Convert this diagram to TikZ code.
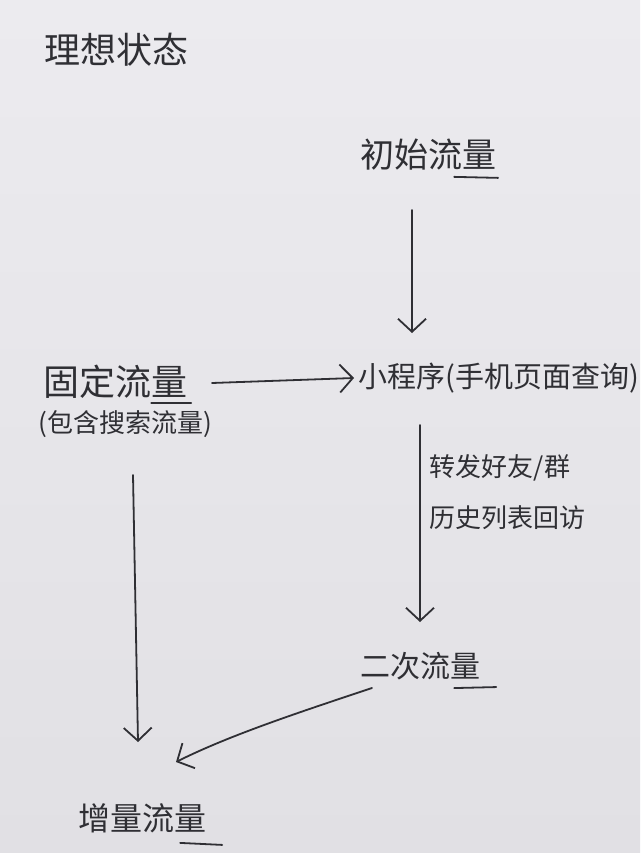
\documentclass[tikz,border=0pt]{standalone}
\usepackage{fontspec}
\newfontfamily\cjk{Noto Sans CJK SC}
\usetikzlibrary{arrows.meta}
\definecolor{paper}{HTML}{ECEBEF}
\definecolor{paperlow}{HTML}{E1E0E4}
\definecolor{inkc}{HTML}{2F2F34}
\begin{document}
\begin{tikzpicture}[x=1pt,y=-1pt,
  ink/.style={draw=inkc, line width=1.8pt, line cap=round, line join=round},
  arr/.style={ink, -{Straight Barb[length=13pt,width=28pt,line width=1.8pt]}},
  lbl/.style={text=inkc, inner sep=0pt, font=\cjk\fontsize{34}{38}\selectfont},
  note/.style={lbl, font=\cjk\fontsize{26}{30}\selectfont}]
  % paper
  \shade[top color=paper, bottom color=paperlow] (0,0) rectangle (640,853);
  \useasboundingbox (0,0) rectangle (640,853);

  % labels
  \node[lbl, font=\cjk\fontsize{36}{40}\selectfont] (title) at (116,50) {理想状态};
  \node[lbl] (init) at (428,155) {初始流量};
  \node[lbl, font=\cjk\fontsize{36}{40}\selectfont] (fixed) at (115,382) {固定流量};
  \node[note] (search) at (125,424) {(包含搜索流量)};
  \node[lbl, font=\cjk\fontsize{29}{33}\selectfont] (mini) at (499,378) {小程序(手机页面查询)};
  \node[note] (fwd) at (500,468) {转发好友/群};
  \node[note] (hist) at (507,518) {历史列表回访};
  \node[lbl, font=\cjk\fontsize{30}{34}\selectfont] (second) at (420,666) {二次流量};
  \node[lbl, font=\cjk\fontsize{32}{36}\selectfont] (incr) at (142,818) {增量流量};

  % underlines
  \draw[ink] (init.south east) ++(-42,6) coordinate (u1a) -- ++(44,1) coordinate (u1b);
  \draw[ink] (fixed.south east) ++(-36,4) coordinate (u2a) -- ++(40,0) coordinate (u2b);
  \draw[ink] (second.south east) ++(-26,8) coordinate (u3a) -- ++(42,-1) coordinate (u3b);
  \draw[ink] (incr.south east) ++(-26,10) coordinate (u4a) -- ++(42,2) coordinate (u4b);

  % connector end points
  \coordinate (initOut) at (412,210);
  \coordinate (miniIn) at (412,333);
  \coordinate (fixedOut) at (212,383);
  \coordinate (miniLeft) at (354,378);
  \coordinate (miniOut) at (420,425);
  \coordinate (secondIn) at (420,622);
  \coordinate (fixedDown) at (133,475);
  \coordinate (incrInA) at (138,742);
  \coordinate (secondOut) at (372,688);
  \coordinate (incrInB) at (176,762);

  % connectors
  \draw[arr] (initOut) -- (miniIn);
  \draw[arr] (fixedOut) -- (miniLeft);
  \draw[arr] (miniOut) -- (secondIn);
  \draw[arr] (fixedDown) -- (incrInA);
  \draw[arr] (secondOut) .. controls (300,712) and (230,735) .. (incrInB);
\end{tikzpicture}
\end{document}
